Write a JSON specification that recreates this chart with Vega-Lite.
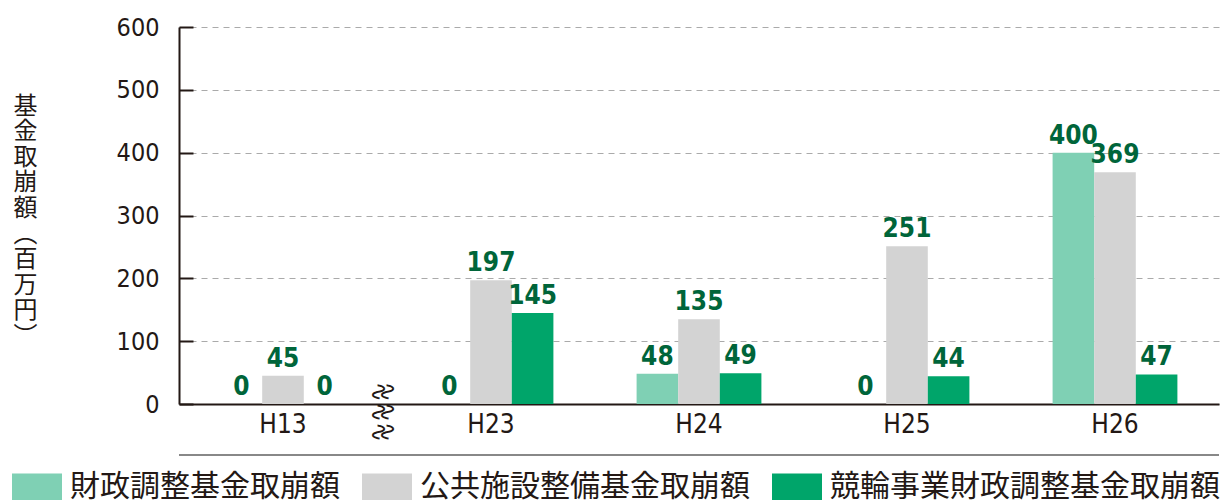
{
  "$schema": "https://vega.github.io/schema/vega-lite/v6.json",
  "width": 1040,
  "height": 377,
  "autosize": {"type": "none"},
  "padding": {"left": 179, "top": 27, "right": 4, "bottom": 96},
  "background": "white",
  "config": {
    "view": {"stroke": null},
    "font": "Noto Sans CJK JP"
  },
  "layer": [
    {
      "data": {"name": "main", "values": [
        {"year": "H13", "series": "財政調整基金取崩額", "value": 0},
        {"year": "H13", "series": "公共施設整備基金取崩額", "value": 45},
        {"year": "H13", "series": "競輪事業財政調整基金取崩額", "value": 0},
        {"year": "H23", "series": "財政調整基金取崩額", "value": 0},
        {"year": "H23", "series": "公共施設整備基金取崩額", "value": 197},
        {"year": "H23", "series": "競輪事業財政調整基金取崩額", "value": 145},
        {"year": "H24", "series": "財政調整基金取崩額", "value": 48},
        {"year": "H24", "series": "公共施設整備基金取崩額", "value": 135},
        {"year": "H24", "series": "競輪事業財政調整基金取崩額", "value": 49},
        {"year": "H25", "series": "財政調整基金取崩額", "value": 0},
        {"year": "H25", "series": "公共施設整備基金取崩額", "value": 251},
        {"year": "H25", "series": "競輪事業財政調整基金取崩額", "value": 44},
        {"year": "H26", "series": "財政調整基金取崩額", "value": 400},
        {"year": "H26", "series": "公共施設整備基金取崩額", "value": 369},
        {"year": "H26", "series": "競輪事業財政調整基金取崩額", "value": 47}
      ]},
      "layer": [
        {
          "mark": {"type": "bar"},
          "encoding": {
            "x": {"field": "year", "type": "nominal", "sort": ["H13", "H23", "H24", "H25", "H26"],
              "scale": {"paddingInner": 0.4, "paddingOuter": 0.2},
              "axis": {"title": null, "labelAngle": 0, "ticks": false, "domainColor": "#231815", "domainWidth": 2,
                "labelFont": "Liberation Sans Narrow, DejaVu Sans Condensed, sans-serif", "labelFontSize": 26, "labelColor": "#231815", "labelPadding": 7}},
            "xOffset": {"field": "series", "type": "nominal", "sort": ["財政調整基金取崩額", "公共施設整備基金取崩額", "競輪事業財政調整基金取崩額"]},
            "y": {"field": "value", "type": "quantitative",
              "scale": {"domain": [0, 600]},
              "axis": {"values": [0, 100, 200, 300, 400, 500, 600],
                "title": ["基", "金", "取", "崩", "額", "︵", "百", "万", "円", "︶"],
                "titleAngle": 0, "titleAlign": "center", "titleBaseline": "top", "titleX": -154, "titleY": 67,
                "titleFontSize": 24, "titleLineHeight": 25.6, "titleFontWeight": "normal", "titleColor": "#231815",
                "domainColor": "#231815", "domainWidth": 2, "tickColor": "#231815", "tickWidth": 2, "tickSize": -14,
                "labelPadding": 34, "labelFont": "Liberation Sans Narrow, DejaVu Sans Condensed, sans-serif", "labelFontSize": 25, "labelColor": "#231815",
                "gridColor": "#aaaaaa", "gridDash": [6, 5], "gridWidth": 1}},
            "color": {"field": "series", "type": "nominal",
              "scale": {"domain": ["財政調整基金取崩額", "公共施設整備基金取崩額", "競輪事業財政調整基金取崩額"], "range": ["#7fd0b4", "#d3d3d3", "#00a56a"]},
              "legend": {"orient": "none", "direction": "horizontal", "legendX": -167, "legendY": 435, "title": null,
                "symbolType": "M-1,-0.54H1V0.54H-1Z", "symbolSize": 2500, "symbolStrokeWidth": 0, "symbolOpacity": 1,
                "labelFontSize": 30, "labelColor": "#231815", "labelOffset": 8, "columnPadding": 22, "labelLimit": 500}}
          }
        },
        {
          "mark": {"type": "text", "baseline": "bottom", "dy": -4, "fontWeight": "bold", "fontSize": 26,
            "font": "Liberation Sans Narrow, DejaVu Sans Condensed, sans-serif", "color": "#00653a"},
          "encoding": {
            "x": {"field": "year", "type": "nominal", "sort": ["H13", "H23", "H24", "H25", "H26"]},
            "xOffset": {"field": "series", "type": "nominal", "sort": ["財政調整基金取崩額", "公共施設整備基金取崩額", "競輪事業財政調整基金取崩額"]},
            "y": {"field": "value", "type": "quantitative"},
            "text": {"field": "value", "type": "quantitative"}
          }
        }
      ]
    },
    {
      "data": {"values": [{"v": -81}]},
      "mark": {"type": "rule", "color": "#888888", "strokeWidth": 2, "clip": false},
      "encoding": {"y": {"field": "v", "type": "quantitative"}}
    },
    {
      "data": {"values": [{"year": "H13", "mark": ["∿∿∿", "∿∿∿"]}]},
      "mark": {"type": "text", "dx": 8, "dy": -104, "angle": 90, "align": "center", "baseline": "middle", "lineHeight": 9, "fontSize": 24, "font": "DejaVu Sans", "color": "#231815", "clip": false},
      "encoding": {
        "x": {"field": "year", "type": "nominal"},
        "y": {"datum": 0, "type": "quantitative"},
        "text": {"field": "mark"}
      }
    }
  ]
}
